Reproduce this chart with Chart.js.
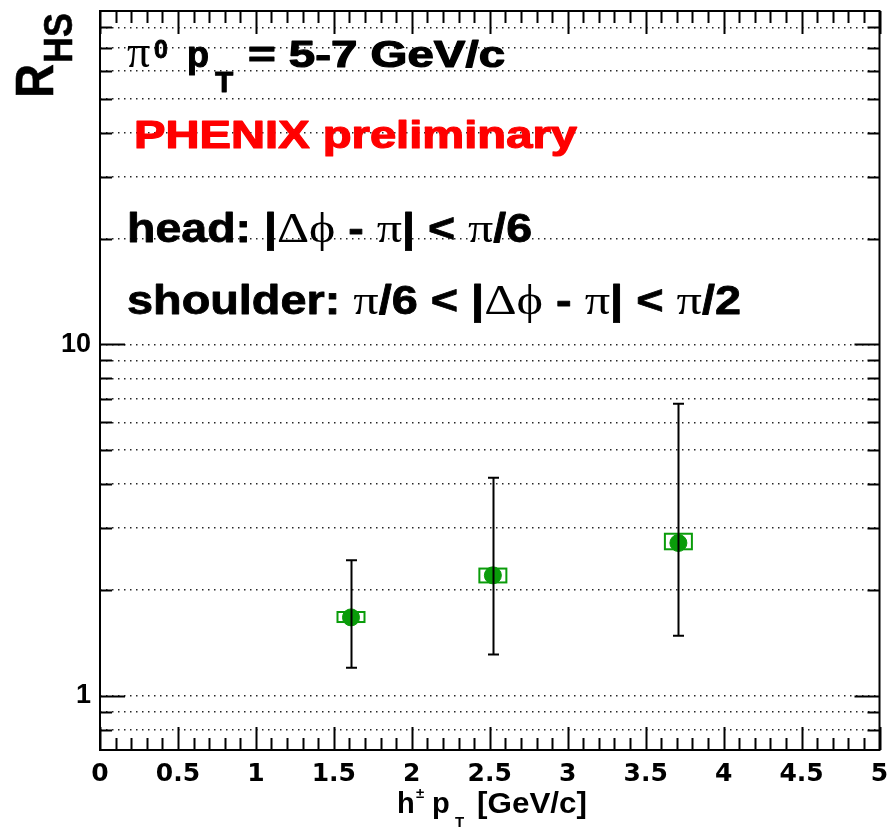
<!DOCTYPE html>
<html>
<head>
<meta charset="utf-8">
<script src="https://cdn.jsdelivr.net/npm/chart.js@4.4.1/dist/chart.umd.min.js"></script>
<style>
  html, body { margin: 0; padding: 0; background: #ffffff; }
  canvas { display: block; }
</style>
</head>
<body>
<canvas id="c" width="889" height="827"></canvas>
<script>
// Head-to-shoulder ratio vs associated hadron pT
const ptAssoc   = [1.61, 2.52, 3.71];
const rhsValues = [1.67, 2.20, 2.72];
const statLow   = [1.20, 1.31, 1.48];
const statHigh  = [2.43, 4.17, 6.78];
const sysLow    = [1.62, 2.10, 2.61];
const sysHigh   = [1.73, 2.30, 2.89];

const xTickValues = Array.from({length: 51}, (_, i) => i / 10);
const yTickValues = [0.8, 0.9, 1, 2, 3, 4, 5, 6, 7, 8, 9, 10, 20, 30, 40, 50, 60, 70, 80];
const yLabelValues = [1, 10];

const GREEN = '#0a9c0a';
const SANS = '"Liberation Sans", Arial, Helvetica, sans-serif';
const SERIF = '"Liberation Serif", "Times New Roman", serif';

function isHalf(v) {
  return Math.abs(v * 2 - Math.round(v * 2)) < 1e-6;
}

// Rich text: each segment may carry its own x, font, vertical shift and target width
function drawRich(ctx, x0, y0, segs, color) {
  ctx.save();
  ctx.fillStyle = color;
  ctx.strokeStyle = color;
  ctx.textBaseline = 'alphabetic';
  ctx.textAlign = 'left';
  let cx = x0;
  for (const s of segs) {
    ctx.font = s.font;
    const w = ctx.measureText(s.t).width;
    const px = (s.x !== undefined) ? s.x : cx;
    const sx = s.w ? s.w / w : (s.sx || 1);
    ctx.save();
    ctx.translate(px, y0 + (s.dy || 0));
    ctx.scale(sx, 1);
    ctx.fillText(s.t, 0, 0);
    if (s.heavy) {
      ctx.lineWidth = s.heavy;
      ctx.lineJoin = 'round';
      ctx.strokeText(s.t, 0, 0);
    }
    ctx.restore();
    cx = px + w * sx;
  }
  ctx.restore();
}

// Whole line stretched to a given width
function drawLine(ctx, x0, y0, segs, width, color) {
  let total = 0;
  for (const s of segs) { ctx.font = s.font; total += ctx.measureText(s.t).width; }
  const sx = width / total;
  drawRich(ctx, x0, y0, segs.map(s => Object.assign({}, s, {sx})), color);
}

const framePlugin = {
  id: 'frameTicks',
  beforeDatasetsDraw(chart) {
    const {ctx, chartArea: a, scales: {x, y}} = chart;
    ctx.save();
    ctx.strokeStyle = '#000';
    ctx.lineWidth = 2;
    ctx.beginPath();
    // y ticks (left and right, pointing inwards)
    for (const t of y.ticks) {
      const py = Math.round(y.getPixelForValue(t.value)) + 0.5;
      const len = yLabelValues.includes(t.value) ? 25 : 12;
      ctx.moveTo(a.left, py); ctx.lineTo(a.left + len, py);
      ctx.moveTo(a.right, py); ctx.lineTo(a.right - len, py);
    }
    // x ticks (bottom and top, pointing inwards)
    for (const t of x.ticks) {
      const px = Math.round(x.getPixelForValue(t.value)) + 0.5;
      const len = isHalf(t.value) ? 23 : 12;
      ctx.moveTo(px, a.bottom); ctx.lineTo(px, a.bottom - len);
      ctx.moveTo(px, a.top); ctx.lineTo(px, a.top + len);
    }
    ctx.stroke();
    ctx.strokeRect(a.left, a.top, a.right - a.left, a.bottom - a.top);
    ctx.restore();

    // systematic boxes
    ctx.save();
    ctx.strokeStyle = GREEN;
    ctx.lineWidth = 2;
    for (let i = 0; i < ptAssoc.length; i++) {
      const px = x.getPixelForValue(ptAssoc[i]);
      const top = y.getPixelForValue(sysHigh[i]);
      const bot = y.getPixelForValue(sysLow[i]);
      ctx.strokeRect(px - 13.5, top, 27, bot - top);
    }
    ctx.restore();
  },
  afterDatasetsDraw(chart) {
    const {ctx, scales: {x, y}} = chart;
    ctx.save();
    ctx.strokeStyle = '#000';
    ctx.lineWidth = 2;
    ctx.beginPath();
    for (let i = 0; i < ptAssoc.length; i++) {
      const px = Math.round(x.getPixelForValue(ptAssoc[i])) + 0.5;
      const hi = y.getPixelForValue(statHigh[i]);
      const lo = y.getPixelForValue(statLow[i]);
      ctx.moveTo(px, hi); ctx.lineTo(px, lo);
      ctx.moveTo(px - 5.5, hi); ctx.lineTo(px + 5.5, hi);
      ctx.moveTo(px - 5.5, lo); ctx.lineTo(px + 5.5, lo);
    }
    ctx.stroke();
    ctx.restore();
  },
  afterDraw(chart) {
    const ctx = chart.ctx;
    const B = s => 'bold ' + s + 'px ' + SANS;
    const R = s => s + 'px ' + SERIF;

    // pi0 trigger range
    drawRich(ctx, 0, 67, [
      {t: 'π', font: R(46), x: 127},
      {t: '0', font: B(25), x: 154, dy: -9, heavy: 0.8},
      {t: 'p', font: B(36), x: 187, heavy: 1},
      {t: 'T', font: B(30), x: 215, dy: 25, heavy: 0.8},
      {t: '= 5-7 GeV/c', font: B(37), x: 248, w: 257, heavy: 1.2}
    ], '#000');

    drawRich(ctx, 0, 148, [
      {t: 'PHENIX preliminary', font: B(38), x: 134, w: 443, heavy: 1.2}
    ], '#ff0000');

    drawLine(ctx, 127, 242, [
      {t: 'head: |', font: B(40), heavy: 0.8},
      {t: 'Δϕ', font: R(43)},
      {t: ' - ', font: B(40), heavy: 0.8},
      {t: 'π', font: R(43)},
      {t: '| < ', font: B(40), heavy: 0.8},
      {t: 'π', font: R(43)},
      {t: '/6', font: B(40), heavy: 0.8}
    ], 405, '#000');

    drawLine(ctx, 127, 314, [
      {t: 'shoulder: ', font: B(40), heavy: 0.8},
      {t: 'π', font: R(43)},
      {t: '/6 < |', font: B(40), heavy: 0.8},
      {t: 'Δϕ', font: R(43)},
      {t: ' - ', font: B(40), heavy: 0.8},
      {t: 'π', font: R(43)},
      {t: '| < ', font: B(40), heavy: 0.8},
      {t: 'π', font: R(43)},
      {t: '/2', font: B(40), heavy: 0.8}
    ], 614, '#000');

    // x axis title
    drawRich(ctx, 0, 813, [
      {t: 'h', font: B(29), x: 397},
      {t: '±', font: B(15), x: 416, dy: -15},
      {t: 'p', font: B(29), x: 432},
      {t: 'T', font: B(15), x: 455, dy: 14},
      {t: '[GeV/c]', font: B(29), x: 477, w: 110}
    ], '#000');

    // y axis title, rotated
    ctx.save();
    ctx.translate(53, 98);
    ctx.rotate(-Math.PI / 2);
    drawRich(ctx, 0, 0, [
      {t: 'R', font: B(53), x: 0, w: 34, heavy: 0.6},
      {t: 'HS', font: B(40), x: 35, dy: 19, w: 50, heavy: 0.6}
    ], '#000');
    ctx.restore();
  }
};

new Chart(document.getElementById('c'), {
  type: 'scatter',
  data: {
    datasets: [{
      data: ptAssoc.map((v, i) => ({x: v, y: rhsValues[i]})),
      pointRadius: 8.5,
      pointHoverRadius: 8.5,
      pointBackgroundColor: GREEN,
      pointBorderColor: GREEN,
      pointBorderWidth: 1,
      showLine: false
    }]
  },
  options: {
    responsive: false,
    animation: false,
    devicePixelRatio: 1,
    layout: {padding: {left: 0, right: 6, top: 11, bottom: 0}},
    plugins: {legend: {display: false}, tooltip: {enabled: false}},
    scales: {
      x: {
        type: 'linear',
        min: 0,
        max: 5,
        afterBuildTicks: s => { s.ticks = xTickValues.map(v => ({value: v})); },
        afterFit: s => { s.height = 77; s.paddingLeft = 0; s.paddingRight = 0; },
        grid: {display: false},
        border: {display: false},
        ticks: {
          autoSkip: false,
          maxRotation: 0,
          minRotation: 0,
          padding: 1,
          color: '#000',
          font: {family: '"DejaVu Sans"', weight: 'bold', size: 25},
          callback: v => isHalf(v) ? String(Math.round(v * 10) / 10) : ''
        }
      },
      y: {
        type: 'logarithmic',
        min: 0.7,
        max: 89,
        afterBuildTicks: s => { s.ticks = yTickValues.map(v => ({value: v})); },
        afterFit: s => { s.width = 100; s.paddingTop = 0; s.paddingBottom = 0; },
        grid: {color: 'rgba(0,0,0,0.85)', lineWidth: 1.4, drawTicks: false},
        border: {display: false, dash: [1.5, 4.5]},
        ticks: {
          autoSkip: false,
          padding: 9,
          color: '#000',
          font: {family: SANS, weight: 'bold', size: 27},
          callback: v => yLabelValues.includes(v) ? String(v) : ''
        }
      }
    }
  },
  plugins: [framePlugin]
});
</script>
</body>
</html>
